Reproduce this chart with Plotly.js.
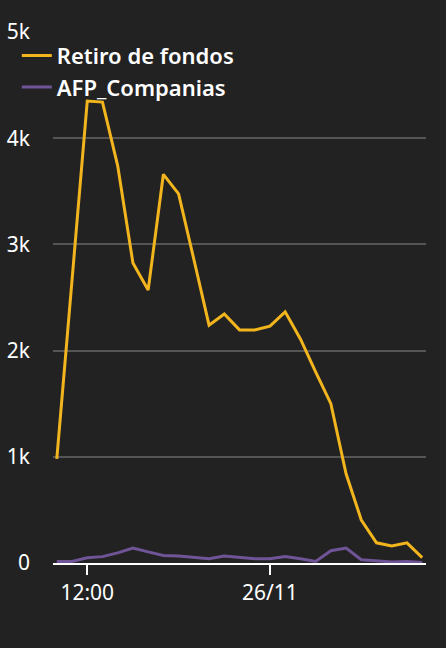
<!DOCTYPE html>
<html>
<head>
<meta charset="utf-8">
<script src="https://cdn.plot.ly/plotly-3.0.1.min.js"></script>
<style>
html,body{margin:0;padding:0;background:#222222;}
#chart{width:446px;height:648px;}
</style>
</head>
<body>
<div id="chart"></div>
<script>
const times = [
  '2020-11-25 10:00','2020-11-25 11:00','2020-11-25 12:00','2020-11-25 13:00','2020-11-25 14:00',
  '2020-11-25 15:00','2020-11-25 16:00','2020-11-25 17:00','2020-11-25 18:00','2020-11-25 19:00',
  '2020-11-25 20:00','2020-11-25 21:00','2020-11-25 22:00','2020-11-25 23:00','2020-11-26 00:00',
  '2020-11-26 01:00','2020-11-26 02:00','2020-11-26 03:00','2020-11-26 04:00','2020-11-26 05:00',
  '2020-11-26 06:00','2020-11-26 07:00','2020-11-26 08:00','2020-11-26 09:00','2020-11-26 10:00'
];
const retiroFondos = [980, 2650, 4350, 4340, 3740, 2825, 2570, 3660, 3475, 2860, 2240, 2345, 2195, 2195, 2230, 2365, 2110, 1800, 1500, 840, 405, 190, 160, 190, 50];
const afpCompanias = [15, 15, 50, 60, 95, 140, 105, 70, 65, 55, 40, 65, 50, 40, 40, 60, 40, 15, 115, 140, 30, 20, 10, 15, 5];
const tickVals = ['2020-11-25 12:00', '2020-11-26 00:00'];
const tickText = ['12:00', '26/11'];
const yTickVals = [0, 1000, 2000, 3000, 4000, 5000];
const yTickText = ['0', '1k', '2k', '3k', '4k', '5k'];

const traces = [
  {x: times, y: retiroFondos, name: 'Retiro de fondos', type: 'scatter', mode: 'lines',
   line: {color: '#F2B51E', width: 3}},
  {x: times, y: afpCompanias, name: 'AFP_Companias', type: 'scatter', mode: 'lines',
   line: {color: '#6F5497', width: 3}}
];

const layout = {
  width: 446, height: 648,
  paper_bgcolor: '#222222', plot_bgcolor: '#222222',
  margin: {l: 53, r: 20, t: 32, b: 85},
  font: {family: 'Noto Sans, sans-serif', color: '#ffffff', size: 20},
  showlegend: true,
  legend: {x: -0.097, xref: 'paper', y: 0.995, yanchor: 'top', xanchor: 'left',
    bgcolor: 'rgba(0,0,0,0)', font: {size: 22, color: '#ffffff', weight: 600},
    tracegroupgap: 6, itemwidth: 30},
  xaxis: {
    type: 'date',
    range: ['2020-11-25 09:45', '2020-11-26 10:15'],
    tickmode: 'array', tickvals: tickVals, ticktext: tickText,
    ticks: 'outside', ticklen: 10, tickwidth: 2, tickcolor: '#ffffff',
    showgrid: false, zeroline: false,
    showline: true, linecolor: '#ffffff', linewidth: 2,
    tickfont: {size: 21, color: '#ffffff'}
  },
  yaxis: {
    range: [0, 5000],
    tickmode: 'array', tickvals: yTickVals, ticktext: yTickText,
    showgrid: true, gridcolor: '#555555', gridwidth: 2,
    zeroline: false, showline: false,
    ticks: '', ticklabelstandoff: 22,
    tickfont: {size: 21, color: '#ffffff'}
  }
};

Plotly.newPlot('chart', traces, layout, {displayModeBar: false, staticPlot: true});
</script>
</body>
</html>
